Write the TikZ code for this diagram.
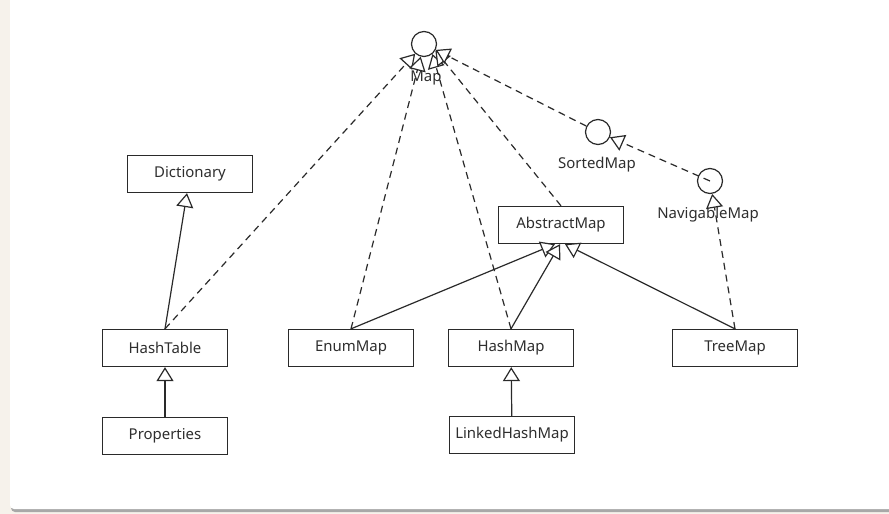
\documentclass[tikz,border=0pt]{standalone}
\usepackage{fontspec}
\setmainfont{Noto Sans}
\usetikzlibrary{arrows.meta}
\definecolor{pagebg}{HTML}{F6F2EB}
\definecolor{shadowc}{HTML}{A8A8A8}
\definecolor{linec}{HTML}{2A2A2A}
\definecolor{textc}{HTML}{2E2E2E}
\begin{document}
\begin{tikzpicture}[x=1bp,y=-1bp,
  cls/.style={draw=linec, line width=1.3bp, fill=white,
    minimum width=125bp, minimum height=37bp, inner sep=0pt,
    font=\fontsize{15}{17}\selectfont, text=textc},
  iface/.style={circle, draw=linec, line width=1.2bp, fill=white,
    minimum size=25bp, inner sep=0pt},
  lbl/.style={font=\fontsize{15}{17}\selectfont, text=textc, inner sep=0pt},
  gen/.style={draw=linec, line width=1.2bp,
    -{Triangle[length=14bp,width=17bp,fill=white,line width=1.2bp]}},
  real/.style={gen, dash pattern=on 7bp off 5bp},
]
\useasboundingbox (0,0) rectangle (889,514);
% page and card
\fill[pagebg] (0,0) rectangle (889,514);
\fill[shadowc, rounded corners=4bp] (11,-6) rectangle (895,512);
\fill[white, rounded corners=4bp] (10,-6) rectangle (895,509);

% classes
\node[cls] (dict)  at (190,174) {Dictionary};
\node[cls] (htab)  at (165,348) {HashTable};
\node[cls] (props) at (165,436) {Properties};
\node[cls] (enum)  at (351,348) {EnumMap};
\node[cls] (hmap)  at (511,348) {HashMap};
\node[cls] (lhm)   at (512,435) {LinkedHashMap};
\node[cls] (tree)  at (735,348) {TreeMap};
\node[cls] (abs)   at (561,225) {AbstractMap};

% interfaces
\node[lbl] (maplbl) at (426,78) {Map};
\node[lbl] (sortlbl) at (597,165) {SortedMap};
\node[lbl] (navlbl) at (708,215) {NavigableMap};
\node[iface] (map)    at (424,44) {};
\node[iface] (sorted) at (598,132) {};
\node[iface] (nav)    at (710,181) {};

% inheritance
\draw[gen] (htab.north) -- ([xshift=-3bp]dict.south);
\draw[gen] (props) -- (htab);
\draw[gen] (lhm) -- (hmap);
\draw[gen] (enum.north) -- ([xshift=-6bp]abs.south);
\draw[gen] (hmap.north) -- ([xshift=-1bp]abs.south);
\draw[gen] (tree.north) -- ([xshift=4bp]abs.south);

% realization
\draw[real] (htab.north) -- (map);
\draw[real] (enum.north) -- (map);
\draw[real] (hmap.north) -- (map.-50);
\draw[real] (abs.north) -- (map.-30);
\draw[real] (sorted) -- (map);
\draw[real] (nav.center) -- (sorted);
\draw[real] (tree.north) -- (nav);
\end{tikzpicture}
\end{document}
